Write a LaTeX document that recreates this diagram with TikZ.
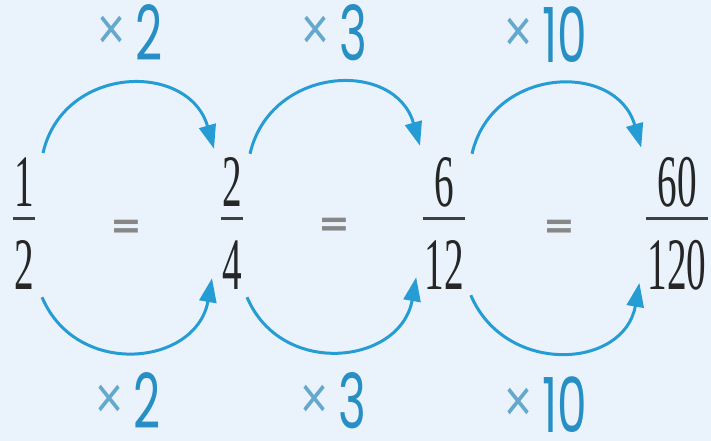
\documentclass[tikz,border=0pt]{standalone}
\usepackage{fontspec}
\usepackage{tikz}
\usetikzlibrary{arrows.meta}
\usepackage{xcolor}

\newfontfamily\fracfont[FakeStretch=0.53]{Liberation Serif}
\newfontfamily\eqfont{DejaVu Sans}
\newfontfamily\labelfont[FakeStretch=0.62]{Poppins}
\newfontfamily\crossfont[FakeStretch=0.8]{Liberation Sans}

\definecolor{bgblue}{RGB}{234,243,251}
\definecolor{arcblue}{RGB}{38,156,212}
\definecolor{labelblue}{RGB}{40,143,196}
\definecolor{crossblue}{RGB}{100,168,205}
\definecolor{eqgray}{RGB}{135,135,135}

\newcommand{\mulsign}{\raisebox{11pt}{\crossfont\fontsize{60}{60}\selectfont\color{crossblue}×}\hspace{10pt}}

\begin{document}
\begin{tikzpicture}[
    x=1pt, y=1pt,
    digit/.style={font=\fracfont\fontsize{74}{74}\selectfont, text=black!85, inner sep=0pt, anchor=base},
    fracbar/.style={draw=black!75, line width=3pt, shorten <=-1pt, shorten >=-1pt},
    eqsign/.style={font=\eqfont\bfseries\fontsize{38}{38}\selectfont, text=eqgray, inner sep=0pt},
    mullabel/.style={font=\labelfont\fontsize{76}{76}\selectfont, text=labelblue, inner sep=0pt, anchor=base},
    mularrow/.style={draw=arcblue, line width=3pt, -{Triangle[length=24pt, width=17pt]}}
]
  \fill[bgblue] (0,0) rectangle (711,441);
  \useasboundingbox (0,0) rectangle (711,441);

  % Fractions
  \node[digit] (num1) at (24,234) {1};
  \node[digit] (den1) at (24,151) {2};
  \node[digit] (num2) at (232,234) {2};
  \node[digit] (den2) at (232,151) {4};
  \node[digit] (num3) at (444,234) {6};
  \node[digit] (den3) at (444,151) {12};
  \node[digit] (num4) at (677,234) {60};
  \node[digit] (den4) at (677,151) {120};

  \draw[fracbar] (den1.west |- 0,222) -- (den1.east |- 0,222);
  \draw[fracbar] (den2.west |- 0,222) -- (den2.east |- 0,222);
  \draw[fracbar] (den3.west |- 0,222) -- (den3.east |- 0,222);
  \draw[fracbar] (den4.west |- 0,222) -- (den4.east |- 0,222);

  % Equals signs
  \node[eqsign] (eq1) at (126,212) {=};
  \node[eqsign] (eq2) at (334,214) {=};
  \node[eqsign] (eq3) at (559,212) {=};

  % Arrows above
  \draw[mularrow] ([shift={(9,5)}]num1.north east) to[out=77, in=106, looseness=1.36] ([shift={(-8,9)}]num2.north west);
  \draw[mularrow] ([shift={(8,4)}]num2.north east) to[out=77, in=106, looseness=1.36] ([shift={(-14,12)}]num3.north west);
  \draw[mularrow] ([shift={(18,4)}]num3.north east) to[out=77, in=106, looseness=1.36] ([shift={(-16,10)}]num4.north west);

  % Arrows below
  \draw[mularrow] ([shift={(8,-7)}]den1.south east) to[out=-67, in=-100, looseness=1.33] ([shift={(-10,12)}]den2.south west);
  \draw[mularrow] ([shift={(5,-7)}]den2.south east) to[out=-67, in=-100, looseness=1.33] ([shift={(-8,13)}]den3.south west);
  \draw[mularrow] ([shift={(7,-5)}]den3.south east) to[out=-67, in=-100, looseness=1.33] ([shift={(-8,8)}]den4.south west);

  % Labels
  \node[mullabel] (top1) at (130,380) {\mulsign 2};
  \node[mullabel] (top2) at (334,380) {\mulsign 3};
  \node[mullabel] (top3) at (546,378) {\mulsign 10};
  \node[mullabel] (bot1) at (128,12) {\mulsign 2};
  \node[mullabel] (bot2) at (333,12) {\mulsign 3};
  \node[mullabel] (bot3) at (546,9) {\mulsign 10};

\end{tikzpicture}
\end{document}
